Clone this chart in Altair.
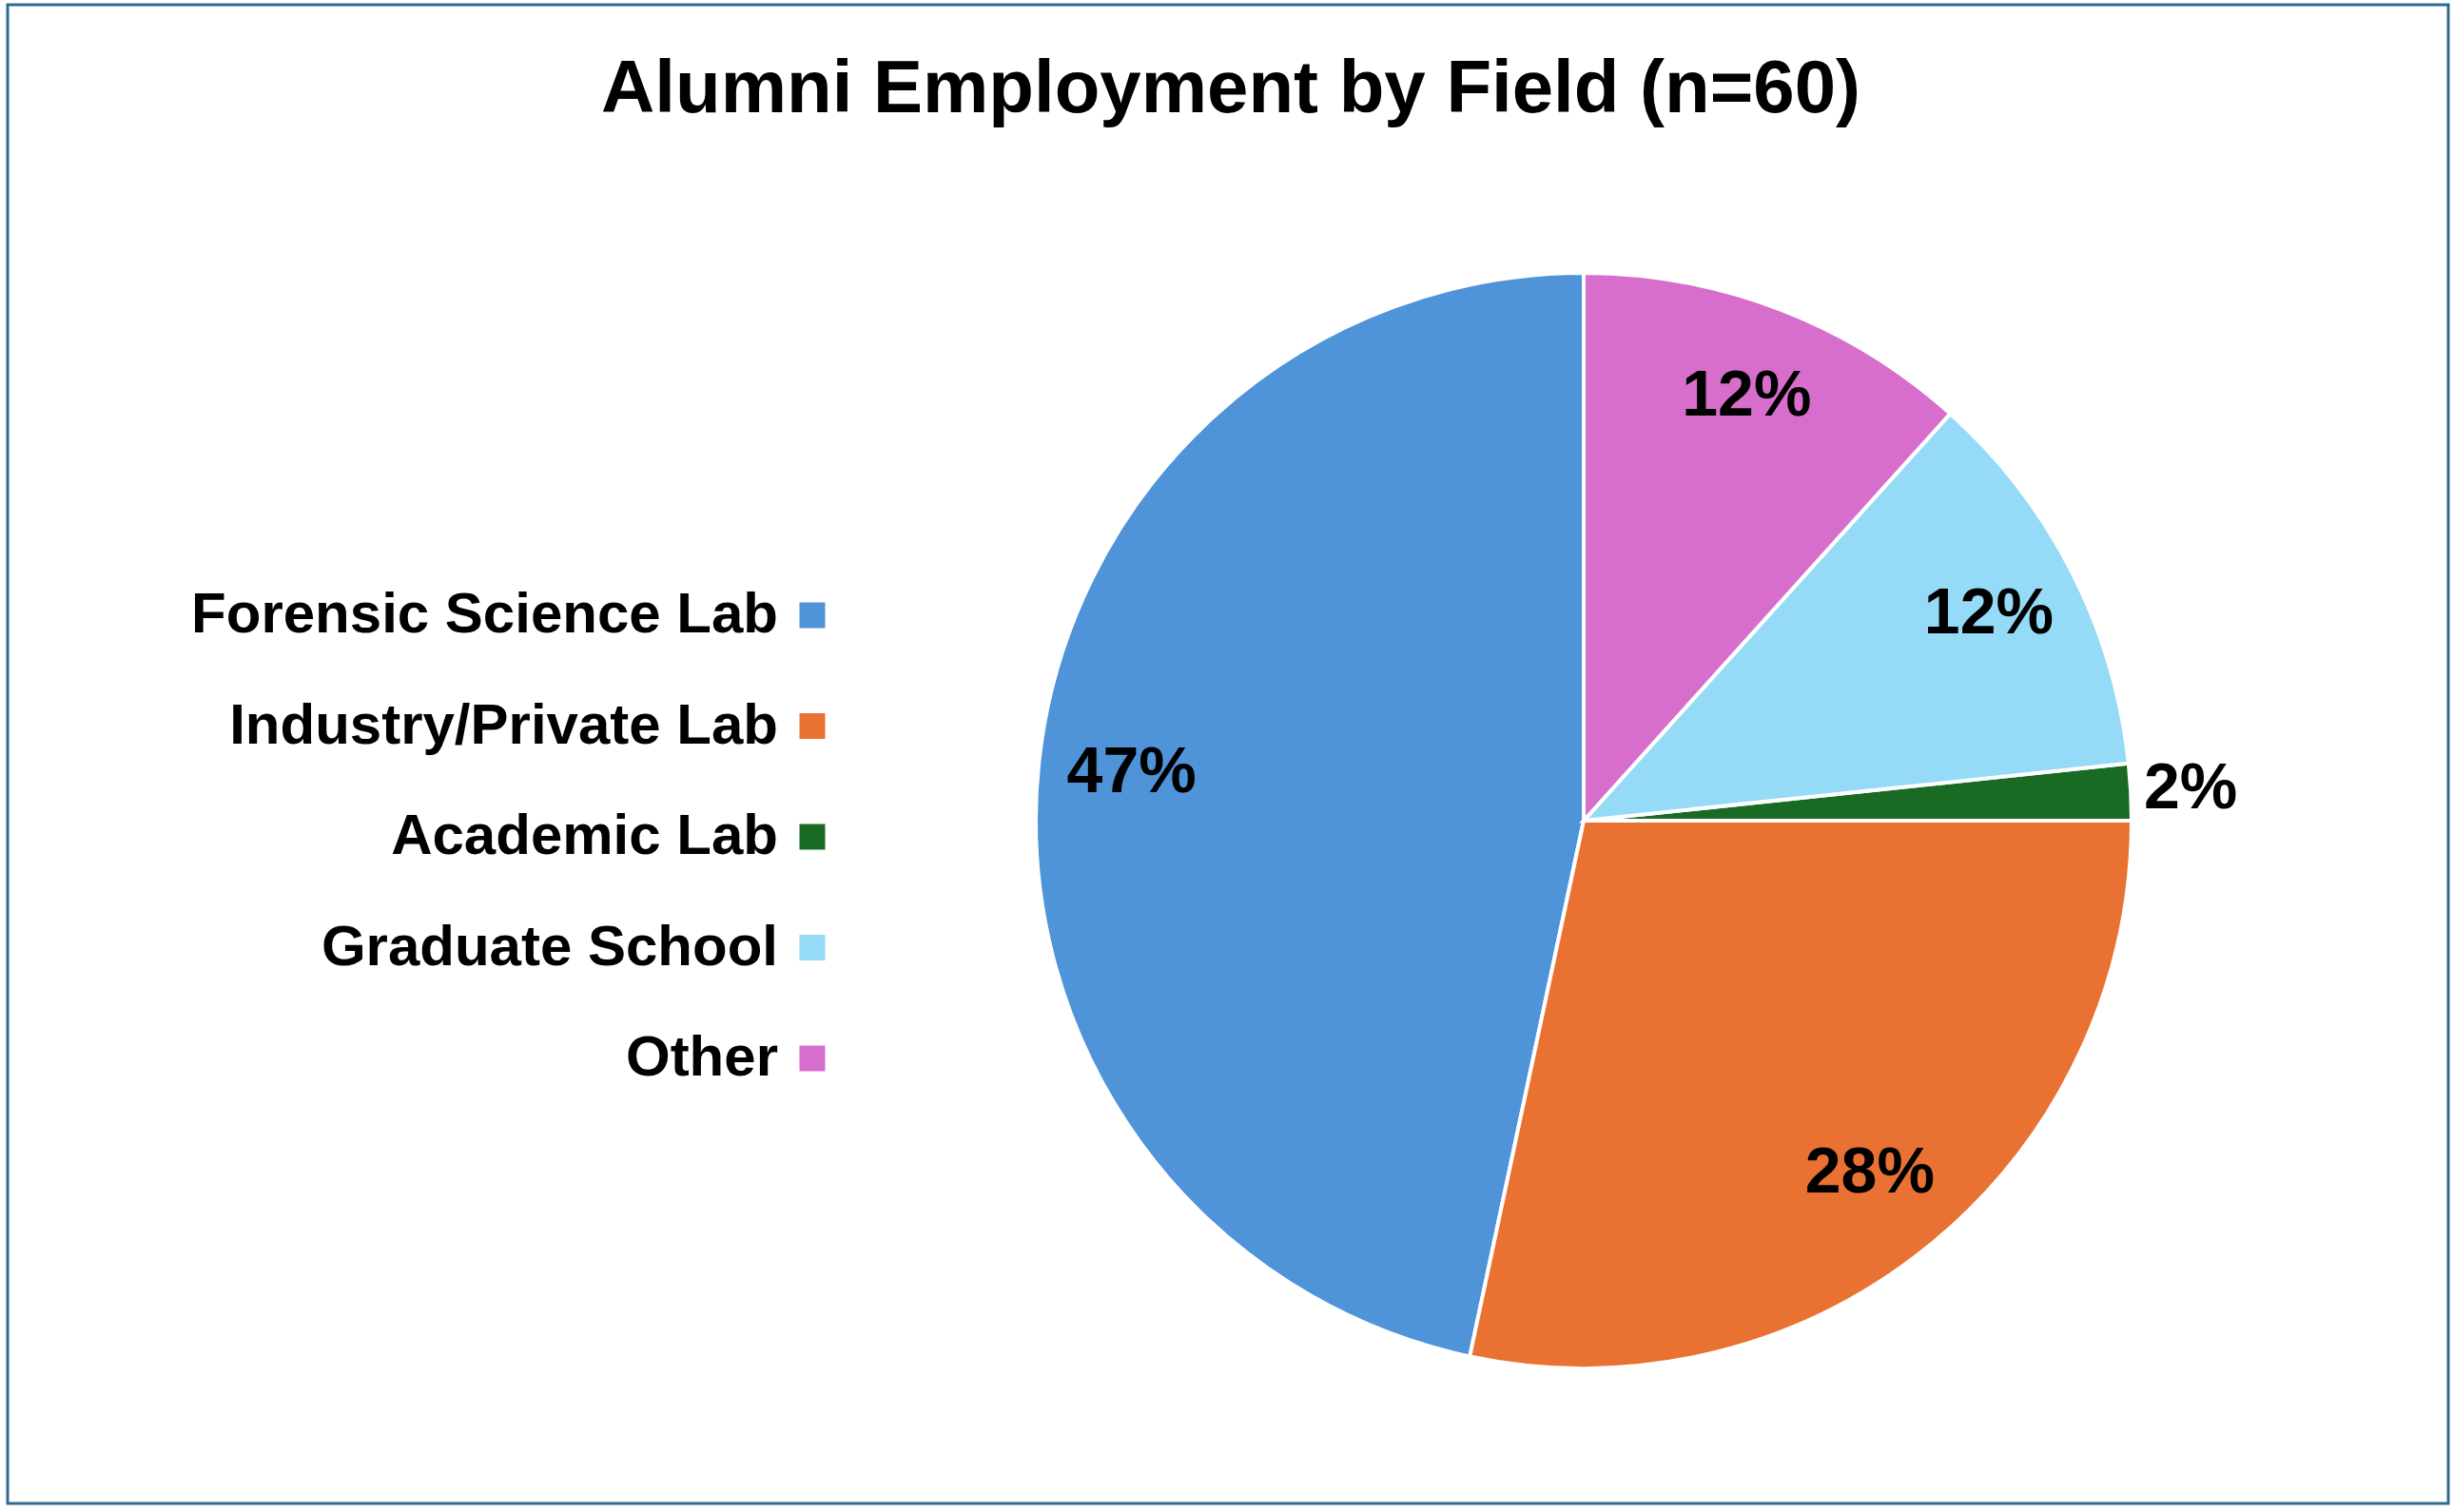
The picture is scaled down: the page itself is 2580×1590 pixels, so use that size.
import math
import altair as alt
import pandas as pd

categories = ["Forensic Science Lab", "Industry/Private Lab", "Academic Lab", "Graduate School", "Other"]
counts = [28, 17, 1, 7, 7]
colors = ["#4F93D9", "#E97233", "#196B24", "#95DBF7", "#D86ECC"]
title_text = "Alumni Employment by Field (n=60)"

total = sum(counts)
df = pd.DataFrame({
    "cat": categories,
    "n": counts,
    "idx": list(range(len(categories))),
    "pct": [f"{round(c / total * 100)}%" for c in counts],
})
title_df = pd.DataFrame({"t": [title_text]})

FONT = "Liberation Sans"
W, H = 2566, 1576
CX, CY, R = 1657, 858, 576

color_scale = alt.Scale(domain=categories, range=colors)
theta_scale = alt.Scale(range=[2 * math.pi, 0])

base = alt.Chart(df).encode(
    theta=alt.Theta("n:Q", stack=True, scale=theta_scale),
    order=alt.Order("idx:Q"),
)

pie = base.mark_arc(outerRadius=R, stroke="white", strokeWidth=4).encode(
    color=alt.Color("cat:N", scale=color_scale, legend=None),
    x=alt.value(CX),
    y=alt.value(CY),
)

inner_labels = base.transform_calculate(
    lab="datum.cat == 'Academic Lab' ? '' : datum.pct"
).mark_text(
    radius=478, font=FONT, fontWeight="bold", fontSize=68, color="black",
    align="center", baseline="middle",
).encode(
    text="lab:N", detail="cat:N", x=alt.value(CX), y=alt.value(CY),
)

outer_labels = base.transform_calculate(
    lab="datum.cat == 'Academic Lab' ? datum.pct : ''"
).mark_text(
    radius=639, font=FONT, fontWeight="bold", fontSize=68, color="black",
    align="center", baseline="middle",
).encode(
    text="lab:N", detail="cat:N", x=alt.value(CX), y=alt.value(CY),
)

leg_y = alt.Y("cat:N", scale=alt.Scale(domain=categories, range=[642, 1108], padding=0), axis=None)

legend_text = alt.Chart(df).mark_text(
    font=FONT, fontWeight="bold", fontSize=60, color="black",
    align="right", baseline="middle",
).encode(y=leg_y, x=alt.value(810), text="cat:N")

legend_sq = alt.Chart(df).mark_square(size=729, opacity=1).encode(
    y=leg_y, x=alt.value(846),
    color=alt.Color("cat:N", scale=color_scale, legend=None),
)

title_mark = alt.Chart(title_df).mark_text(
    font=FONT, fontWeight="bold", fontSize=78, color="black",
    align="center", baseline="alphabetic",
).encode(text="t:N", x=alt.value(W / 2 + 3), y=alt.value(113))

chart = alt.layer(pie, inner_labels, outer_labels, legend_sq, legend_text, title_mark).properties(
    width=W,
    height=H,
    padding={"left": 8, "top": 5, "right": 6, "bottom": 9},
    autosize=alt.AutoSizeParams(type="none"),
    background="white",
).configure_view(
    stroke="#2E6B8C", strokeWidth=3, fill="white",
)

chart.save("out.html", embed_options={"renderer": "svg", "actions": False})
